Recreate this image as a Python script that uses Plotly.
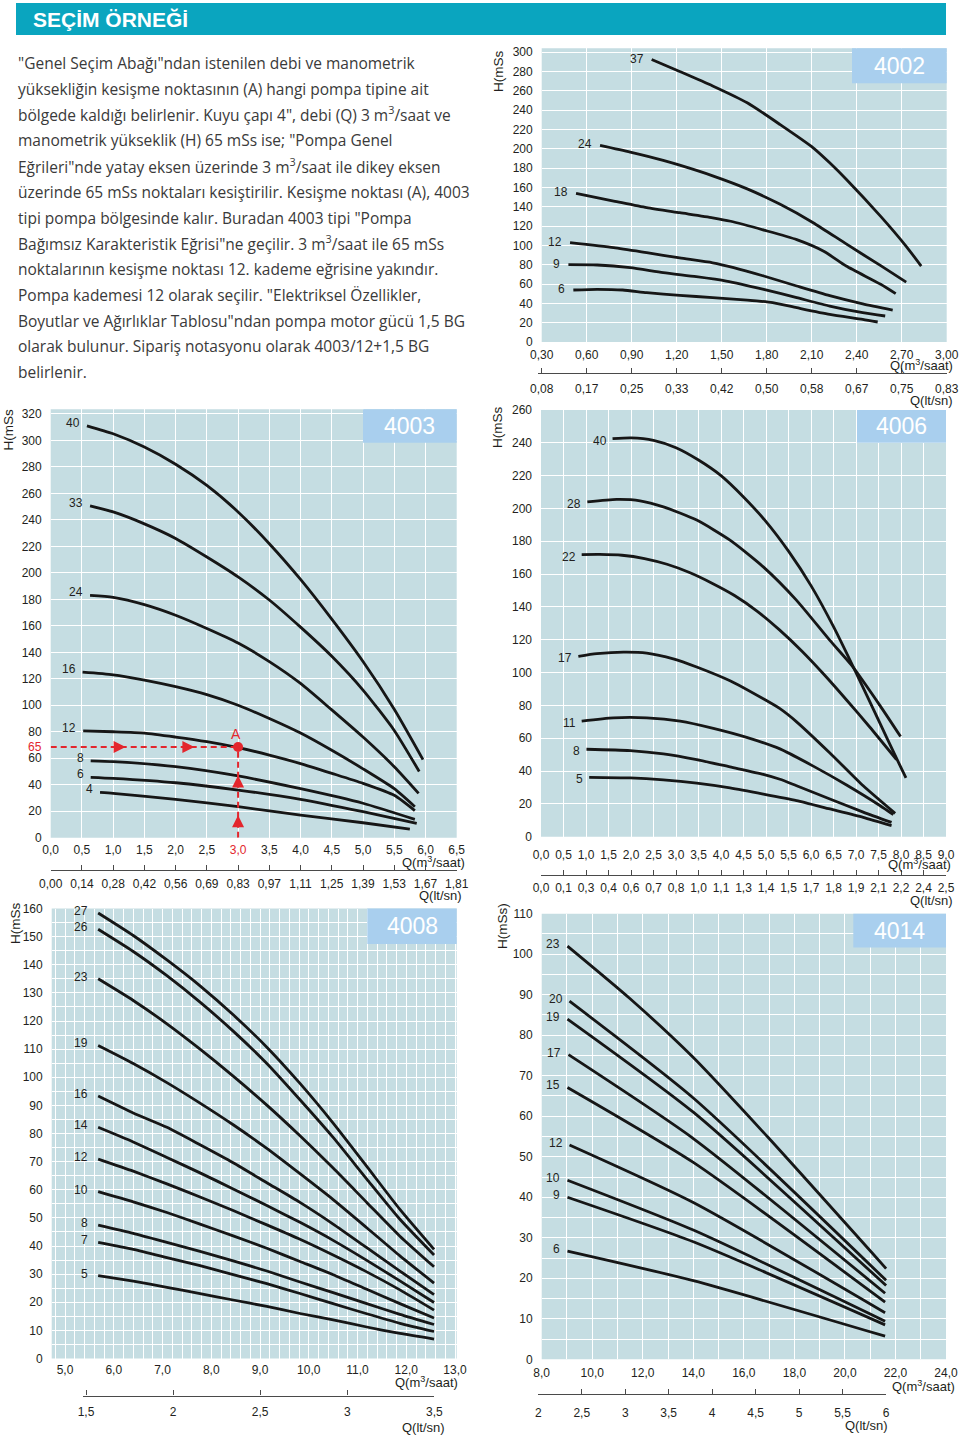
import plotly.graph_objects as go

W, H = 960, 1437

# ====================== DATA ======================
TITLE = "SEÇİM ÖRNEĞİ"
PARAGRAPH = [
    '"Genel Seçim Abağı"ndan istenilen debi ve manometrik',
    'yüksekliğin kesişme noktasının (A) hangi pompa tipine ait',
    'bölgede kaldığı belirlenir. Kuyu çapı 4", debi (Q) 3 m<sup>3</sup>/saat ve',
    'manometrik yükseklik (H) 65 mSs ise; "Pompa Genel',
    'Eğrileri"nde yatay eksen üzerinde 3 m<sup>3</sup>/saat ile dikey eksen',
    'üzerinde 65 mSs noktaları kesiştirilir. Kesişme noktası (A), 4003',
    'tipi pompa bölgesinde kalır. Buradan 4003 tipi "Pompa',
    'Bağımsız Karakteristik Eğrisi"ne geçilir. 3 m<sup>3</sup>/saat ile 65 mSs',
    'noktalarının kesişme noktası 12. kademe eğrisine yakındır.',
    'Pompa kademesi 12 olarak seçilir. "Elektriksel Özellikler,',
    'Boyutlar ve Ağırlıklar Tablosu"ndan pompa motor gücü 1,5 BG',
    'olarak bulunur. Sipariş notasyonu olarak 4003/12+1,5 BG',
    'belirlenir.',
]

# ---- 4002 ----
Q_TICKS_4002 = ["0,30", "0,60", "0,90", "1,20", "1,50", "1,80", "2,10", "2,40", "2,70", "3,00"]
LTSN_TICKS_4002 = ["0,08", "0,17", "0,25", "0,33", "0,42", "0,50", "0,58", "0,67", "0,75", "0,83"]
H_TICKS_4002 = [0, 20, 40, 60, 80, 100, 120, 140, 160, 180, 200, 220, 240, 260, 280, 300]
CURVES_4002 = {
    "37": ([1.033, 1.22, 1.44, 1.67, 1.89, 2.11, 2.22, 2.33, 2.56, 2.73, 2.83],
           [292.4, 280, 265, 247.6, 225, 201, 185.5, 168.5, 130, 99, 78.6]),
    "24": ([0.689, 0.89, 1.11, 1.22, 1.44, 1.67, 1.89, 2.11, 2.33, 2.56, 2.73],
           [203.4, 196.5, 188, 183, 172, 158.5, 142.5, 123.5, 101.5, 79, 62]),
    "18": ([0.529, 0.78, 1.0, 1.22, 1.44, 1.56, 1.78, 2.0, 2.18, 2.33, 2.56, 2.66],
           [153.8, 145.9, 139, 133.8, 128.6, 125, 115.9, 106, 94, 78.6, 59.7, 50]),
    "12": ([0.489, 0.78, 1.0, 1.22, 1.44, 1.58, 1.78, 2.0, 2.22, 2.44, 2.64],
           [102.8, 97.6, 92.4, 87, 82, 77, 68.3, 58, 48, 39.5, 33]),
    "9": ([0.478, 0.67, 0.89, 1.11, 1.33, 1.53, 1.78, 2.0, 2.22, 2.44, 2.59],
          [80, 79.7, 76.9, 71.7, 67.6, 63.1, 54.5, 45.9, 37.2, 30.3, 26.9]),
    "6": ([0.511, 0.67, 0.84, 1.0, 1.22, 1.44, 1.67, 1.84, 2.0, 2.22, 2.44, 2.54],
          [53.8, 54.5, 53.8, 51, 48.3, 45.9, 43.4, 40.7, 35.5, 28.6, 23.4, 20.7]),
}

# ---- 4003 ----
Q_TICKS_4003 = ["0,0", "0,5", "1,0", "1,5", "2,0", "2,5", "3,0", "3,5", "4,0", "4,5", "5,0", "5,5", "6,0", "6,5"]
LTSN_TICKS_4003 = ["0,00", "0,14", "0,28", "0,42", "0,56", "0,69", "0,83", "0,97", "1,11", "1,25", "1,39", "1,53", "1,67", "1,81"]
H_TICKS_4003 = [0, 20, 40, 60, 80, 100, 120, 140, 160, 180, 200, 220, 240, 260, 280, 300, 320]
CURVES_4003 = {
    "40": ([0.58, 1.0, 1.5, 2.0, 2.5, 3.0, 3.5, 4.0, 4.5, 5.0, 5.5, 5.96],
           [311, 305, 295, 282, 266, 246, 222, 195, 165, 133, 97, 59]),
    "33": ([0.63, 1.0, 1.5, 2.0, 2.5, 3.0, 3.5, 4.0, 4.5, 5.0, 5.5, 5.9],
           [250.5, 246, 237, 226, 212, 197, 179.5, 159, 137, 111.5, 81, 50]),
    "24": ([0.63, 1.0, 1.5, 2.0, 2.5, 3.0, 3.5, 4.0, 4.5, 5.0, 5.5, 5.89],
           [183, 181.5, 176, 168, 158, 147, 133, 116.5, 96.5, 76, 53.6, 33.5]),
    "16": ([0.51, 1.0, 1.5, 2.0, 2.5, 3.0, 3.5, 4.0, 4.5, 5.0, 5.5, 5.83],
           [125, 123, 119, 114, 108, 100, 90, 79, 66, 52, 37, 23.4]),
    "12": ([0.52, 1.0, 1.5, 2.0, 2.5, 3.0, 3.5, 4.0, 4.5, 5.0, 5.5, 5.83],
           [80.6, 80, 79, 76, 72.5, 68, 62.4, 56, 48.6, 41, 32, 20.4]),
    "8": ([0.64, 1.0, 2.0, 3.0, 4.0, 5.0, 5.83], [58, 57.4, 53.6, 46.6, 37, 26, 13.8]),
    "6": ([0.64, 1.0, 2.0, 3.0, 4.0, 5.0, 5.86], [45.6, 44.8, 41.5, 36, 29, 19.6, 10.8]),
    "4": ([0.79, 1.0, 2.0, 3.0, 4.0, 5.0, 5.75], [34.2, 33.5, 29, 23.4, 17, 11.3, 6.5]),
}
# selection example (point A): labelled 65 mSs, drawn where the picture places it
A_Q, A_LABEL = 3.0, "65"
A_H = 68.5
ARROW_Q = [1.2, 2.3]
ARROW_H = [47, 17]

# ---- 4006 ----
Q_TICKS_4006 = ["0,0", "0,5", "1,0", "1,5", "2,0", "2,5", "3,0", "3,5", "4,0", "4,5", "5,0", "5,5", "6,0",
                "6,5", "7,0", "7,5", "8,0", "8,5", "9,0"]
LTSN_TICKS_4006 = ["0,0", "0,1", "0,3", "0,4", "0,6", "0,7", "0,8", "1,0", "1,1", "1,3", "1,4", "1,5", "1,7",
                   "1,8", "1,9", "2,1", "2,2", "2,4", "2,5"]
H_TICKS_4006 = [0, 20, 40, 60, 80, 100, 120, 140, 160, 180, 200, 220, 240, 260]
CURVES_4006 = {
    "40": ([1.59, 2.0, 2.5, 3.0, 3.5, 4.0, 4.5, 5.0, 5.5, 6.0, 6.5, 7.0, 7.5, 7.87, 8.11],
           [242.5, 243, 241.5, 237, 229.5, 220, 207, 192, 174, 153, 128, 100, 71, 49.5, 35.8]),
    "28": ([1.03, 1.68, 2.2, 2.72, 3.46, 4.2, 4.94, 5.68, 6.42, 6.9, 7.53, 7.99],
           [204, 205.5, 204.7, 201, 192.9, 180.7, 164.4, 144, 119.6, 104.5, 80, 61]),
    "22": ([0.904, 1.3, 1.8, 2.3, 2.8, 3.3, 3.8, 4.3, 4.8, 5.3, 5.8, 6.3, 6.8, 7.3, 7.9],
           [171.9, 172, 171.5, 169.5, 166, 161, 154.5, 147, 137.5, 126, 113, 98.5, 83, 67, 47]),
    "17": ([0.83, 1.24, 1.83, 2.35, 2.94, 3.46, 4.2, 4.94, 5.31, 5.68, 6.42, 7.16, 7.87],
           [109.9, 111.5, 112.5, 111.9, 108.4, 103.4, 95, 84, 78, 70, 51, 31, 14.2]),
    "11": ([0.904, 1.61, 2.35, 3.09, 3.83, 4.57, 5.31, 6.05, 6.79, 7.53, 7.83],
           [70.4, 72.4, 72.4, 70.4, 66, 60.5, 53.5, 43, 31.5, 19, 13.4]),
    "8": ([1.01, 1.98, 2.72, 3.46, 4.2, 4.94, 5.31, 5.68, 6.42, 7.16, 7.79],
          [53.3, 52.5, 50.5, 47, 42.5, 38, 35, 31, 23, 15, 8.7]),
    "5": ([1.07, 1.98, 2.72, 3.46, 4.2, 4.94, 5.68, 6.42, 7.16, 7.79],
          [36.2, 35.8, 34.6, 32.6, 29.7, 26, 22, 16.9, 11.8, 6.7]),
}

# ---- 4008 ----
Q_TICKS_4008 = ["5,0", "6,0", "7,0", "8,0", "9,0", "10,0", "11,0", "12,0", "13,0"]
LTSN_TICKS_4008 = ["1,5", "2", "2,5", "3", "3,5"]
H_TICKS_4008 = [0, 10, 20, 30, 40, 50, 60, 70, 80, 90, 100, 110, 120, 130, 140, 150, 160]
Q_4008 = [5.68, 6.40, 7.09, 7.77, 8.45, 9.14, 9.82, 10.5, 11.19, 11.87, 12.57]
CURVES_4008 = {
    "27": (Q_4008, [158.4, 150.4, 141.7, 132.5, 122.2, 110.7, 97.8, 83.7, 68.3, 53, 38.8]),
    "26": (Q_4008, [152.6, 144.7, 136.1, 126.7, 116.4, 104.9, 92, 78.6, 63.8, 49.5, 36.8]),
    "23": (Q_4008, [135, 127.3, 119, 110, 100.4, 90.1, 79.2, 67.7, 55.5, 43.5, 32.6]),
    "19": (Q_4008, [111.3, 104.9, 98.1, 90.8, 83.1, 74.7, 65.7, 56.5, 46.5, 36.5, 26.8]),
    "16": (Q_4008, [93.3, 87.3, 82.2, 76, 69.6, 62.5, 55.5, 47.8, 39.4, 31.1, 22.7]),
    "14": (Q_4008, [82.2, 77, 71.5, 66, 60.3, 54.4, 48.4, 42, 34.9, 27.6, 19.9]),
    "12": (Q_4008, [70.9, 66.6, 62.1, 57.4, 52.6, 47.5, 42.4, 36.8, 30.8, 24.4, 17.2]),
    "10": (Q_4008, [59.3, 55.7, 51.9, 47.8, 43.6, 39.2, 34.5, 29.8, 24.6, 19.5, 14.4]),
    "8": (Q_4008, [47.4, 44.5, 41.3, 38.1, 34.7, 31.1, 27.2, 23.4, 19.5, 15.7, 12.1]),
    "7": (Q_4008, [41.3, 38.8, 35.9, 33, 29.8, 26.6, 23.1, 19.5, 15.9, 12.5, 9.6]),
    "5": (Q_4008, [29.5, 27.5, 25.3, 23.1, 20.8, 18.5, 16, 13.7, 11.2, 8.9, 6.9]),
}

# ---- 4014 ----
Q_TICKS_4014 = ["8,0", "10,0", "12,0", "14,0", "16,0", "18,0", "20,0", "22,0", "24,0"]
LTSN_TICKS_4014 = ["2", "2,5", "3", "3,5", "4", "4,5", "5", "5,5", "6"]
H_TICKS_4014 = [0, 10, 20, 30, 40, 50, 60, 70, 80, 90, 100, 110]
CURVES_4014 = {
    "23": ([9.02, 11.5, 14.0, 17.0, 21.63], [102, 89.0, 74.5, 54.5, 22.4]),
    "20": ([9.1, 14.0, 21.63], [88.4, 64.5, 19.5]),
    "19": ([9.02, 14.0, 21.63], [84, 61, 18.2]),
    "17": ([9.06, 14.0, 21.59], [75.2, 54.5, 16.3]),
    "15": ([9.02, 14.0, 21.59], [67.1, 48.6, 14.1]),
    "12": ([9.1, 14.0, 21.59], [52.9, 38.7, 11.5]),
    "10": ([9.02, 14.0, 21.59], [44.2, 31.9, 9.4]),
    "9": ([9.02, 14.0, 21.59], [40, 29, 8.5]),
    "6": ([9.02, 14.0, 21.59], [26.7, 19.4, 5.7]),
}

# ====================== STYLE ======================
FONT = "Liberation Sans, Arial, Helvetica, sans-serif"
TXT = "#231f20"
BG = "#c5dde2"
BOXC = "#a9cfee"
TEAL = "#0aa5bf"
RED = "#e3262d"
LINE = "#161616"
TICKFONT = dict(family=FONT, size=12, color=TXT)


def num(s):
    return float(s.replace(",", "."))


def fx(X):
    return X / W


def fy(Y):
    return 1 - Y / H


def axn(n, k):
    return f"{k}axis" if n == 1 else f"{k}axis{n}"


def rf(n, k):
    return k if n == 1 else f"{k}{n}"


def frange(a, b, step):
    out = []
    v = a
    while v <= b + 1e-9:
        out.append(round(v, 4))
        v += step
    return out


fig = go.Figure()
layout = {}
shapes = []
annos = []


def main_panel(n, name, box, xr, yr, xvals, xtext, yvals, curves, shift, box_px,
               x_off, xminor=None, yminor=None):
    L, T, R, B = box
    xa = dict(domain=[fx(L), fx(R)], range=xr, anchor=rf(n, "y"), tickmode="array",
              tickvals=xvals, ticktext=xtext, showgrid=True, gridcolor="white", gridwidth=1.3,
              zeroline=False, showline=False, ticks="", tickfont=TICKFONT, automargin=False,
              ticklabelstandoff=x_off, fixedrange=True)
    ya = dict(domain=[fy(B), fy(T)], range=yr, anchor=rf(n, "x"), tickmode="array",
              tickvals=yvals, ticktext=[str(v) for v in yvals], showgrid=True, gridcolor="white",
              gridwidth=1.3, zeroline=False, showline=False, ticks="", tickfont=TICKFONT,
              automargin=False, ticklabelstandoff=8, fixedrange=True)
    if xminor:
        xa["minor"] = dict(tickmode="array", tickvals=xminor, showgrid=True, gridcolor="white",
                           gridwidth=1, ticks="")
    if yminor:
        ya["minor"] = dict(tickmode="array", tickvals=yminor, showgrid=True, gridcolor="white",
                           gridwidth=1, ticks="")
    layout[axn(n, "x")] = xa
    layout[axn(n, "y")] = ya
    shapes.append(dict(type="rect", xref=f"{rf(n, 'x')} domain", yref=f"{rf(n, 'y')} domain",
                       x0=0, x1=1, y0=0, y1=1, fillcolor=BG, line=dict(width=0), layer="below"))
    bl, bt, br, bb = box_px
    shapes.append(dict(type="rect", xref="paper", yref="paper",
                       x0=fx(bl), x1=fx(br), y0=fy(bb), y1=fy(bt),
                       fillcolor=BOXC, line=dict(width=0), layer="above"))
    annos.append(dict(text=name, xref="paper", yref="paper", x=fx((bl + br) / 2), y=fy((bt + bb) / 2),
                      xanchor="center", yanchor="middle", showarrow=False,
                      font=dict(family=FONT, size=23, color="white")))
    for k, (q, h) in curves.items():
        fig.add_trace(go.Scatter(x=q, y=h, mode="lines", xaxis=rf(n, "x"), yaxis=rf(n, "y"),
                                 line=dict(color=LINE, width=2.8, shape="spline", smoothing=0.6),
                                 showlegend=False, hoverinfo="skip"))
        annos.append(dict(text=k, x=q[0], y=h[0], xref=rf(n, "x"), yref=rf(n, "y"),
                          xanchor="right", yanchor="middle", xshift=shift[0], yshift=shift[1],
                          showarrow=False, font=dict(family=FONT, size=12, color=TXT)))


def sec_axis(n, left, right, line_y, xr, vals, text, off):
    layout[axn(n, "x")] = dict(domain=[fx(left), fx(right)], range=xr, anchor=rf(n, "y"),
                               tickmode="array", tickvals=vals, ticktext=text, showgrid=False,
                               zeroline=False, showline=True, linecolor="#4a4a4a", linewidth=1.2,
                               ticks="inside", ticklen=5, tickwidth=1, tickcolor="#4a4a4a",
                               tickfont=TICKFONT, ticklabelstandoff=off, fixedrange=True,
                               automargin=False)
    layout[axn(n, "y")] = dict(domain=[fy(line_y), fy(line_y) + 0.0004], range=[0, 1],
                               anchor=rf(n, "x"), visible=False, fixedrange=True, automargin=False)
    fig.add_trace(go.Scatter(x=[None], y=[None], xaxis=rf(n, "x"), yaxis=rf(n, "y"),
                             showlegend=False, hoverinfo="skip"))


def label(text, X, Y, anchor="right", size=13, color=TXT, angle=0):
    annos.append(dict(text=text, xref="paper", yref="paper", x=fx(X), y=fy(Y), xanchor=anchor,
                      yanchor="middle", showarrow=False, textangle=angle,
                      font=dict(family=FONT, size=size, color=color)))


# ---------------- header & paragraph ----------------
shapes.append(dict(type="rect", xref="paper", yref="paper", x0=fx(16), x1=fx(946), y0=fy(35), y1=fy(3),
                   fillcolor=TEAL, line=dict(width=0), layer="below"))
annos.append(dict(text=f"<b>{TITLE}</b>", xref="paper", yref="paper", x=fx(31), y=fy(19.5),
                  xanchor="left", yanchor="middle", showarrow=False,
                  font=dict(family="Liberation Sans Narrow, Liberation Sans, Arial", size=21, color="white")))
for i, line in enumerate(PARAGRAPH):
    annos.append(dict(text=line, xref="paper", yref="paper", x=fx(16), y=fy(63 + 25.75 * i),
                      xanchor="left", yanchor="middle", showarrow=False,
                      font=dict(family="Open Sans, Noto Sans, sans-serif", size=15.5, color="#3a3a3a")))

# ---------------- 4002 ----------------
qv = [num(s) for s in Q_TICKS_4002]
main_panel(1, "4002", (541.7, 48.3, 946.7, 342.0), [0.3, 3.0], [0, 304], qv, Q_TICKS_4002,
           H_TICKS_4002, CURVES_4002, (-6, 1), (852, 48.3, 946.7, 83.3), 4)
sec_axis(6, 538.0, 946.7, 373, [0.3 - 3.7 / 150, 3.0], qv, LTSN_TICKS_4002, 4)

# ---------------- 4003 ----------------
qv = [num(s) for s in Q_TICKS_4003]
qt = [f'<span style="color:{RED}">{s}</span>' if num(s) == A_Q else s for s in Q_TICKS_4003]
main_panel(2, "4003", (50.7, 409.3, 456.7, 837.7), [0, 6.5], [0, 323.5], qv, qt,
           H_TICKS_4003, CURVES_4003, (-5, 3), (363, 409.3, 456.7, 442.7), 3)
sec_axis(7, 50.7, 456.7, 870, [0, 6.5], qv, LTSN_TICKS_4003, 2)

# red selection construction
fig.add_trace(go.Scatter(x=[0, A_Q], y=[A_H, A_H], mode="lines", xaxis="x2", yaxis="y2",
                         line=dict(color=RED, width=2, dash="6px,4px"), showlegend=False, hoverinfo="skip"))
fig.add_trace(go.Scatter(x=[A_Q, A_Q], y=[0, A_H], mode="lines", xaxis="x2", yaxis="y2",
                         line=dict(color=RED, width=2, dash="6px,4px"), showlegend=False, hoverinfo="skip"))
fig.add_trace(go.Scatter(x=ARROW_Q, y=[A_H] * len(ARROW_Q), mode="markers", xaxis="x2", yaxis="y2",
                         marker=dict(symbol="arrow-right", size=12, color=RED, line=dict(width=0)),
                         showlegend=False, hoverinfo="skip"))
fig.add_trace(go.Scatter(x=[A_Q] * len(ARROW_H), y=ARROW_H, mode="markers", xaxis="x2", yaxis="y2",
                         marker=dict(symbol="arrow-up", size=12, color=RED, line=dict(width=0)),
                         showlegend=False, hoverinfo="skip", cliponaxis=False))
fig.add_trace(go.Scatter(x=[A_Q], y=[A_H], mode="markers", xaxis="x2", yaxis="y2",
                         marker=dict(symbol="circle", size=10, color=RED), showlegend=False, hoverinfo="skip"))
annos.append(dict(text="A", x=A_Q, y=A_H, xref="x2", yref="y2", yshift=13, xshift=-2, showarrow=False,
                  font=dict(family=FONT, size=14, color=RED)))
annos.append(dict(text=A_LABEL, xref="paper", x=fx(44), y=A_H, yref="y2", xanchor="right",
                  yanchor="middle", showarrow=False, font=dict(family=FONT, size=12, color=RED)))

# ---------------- 4006 ----------------
qv = [num(s) for s in Q_TICKS_4006]
main_panel(3, "4006", (541.0, 410.0, 946.0, 836.7), [0, 9], [0, 260], qv, Q_TICKS_4006,
           H_TICKS_4006, CURVES_4006, (-4, -2), (857, 410, 946, 442.7), 9)
sec_axis(8, 541.0, 946.0, 875, [0, 9], qv, LTSN_TICKS_4006, 1)

# ---------------- 4008 ----------------
qv = [num(s) for s in Q_TICKS_4008]
main_panel(4, "4008", (51.7, 908.5, 456.7, 1358.5), [5 - 13.3 / 48.75, 13 + 1.7 / 48.75], [0, 160], qv,
           Q_TICKS_4008, H_TICKS_4008, CURVES_4008, (-8, 2), (367.3, 908.5, 456.7, 944), 2,
           xminor=frange(4.8, 13.0, 0.2), yminor=frange(5, 155, 10))
sec_axis(9, 82.7, 434.3, 1395.5, [1.5 - 3.3 / 174.15, 3.5], [num(s) for s in LTSN_TICKS_4008],
         LTSN_TICKS_4008, 5)

# ---------------- 4014 ----------------
qv = [num(s) for s in Q_TICKS_4014]
main_panel(5, "4014", (541.7, 913.7, 946.0, 1359.3), [8, 24], [0, 110], qv, Q_TICKS_4014,
           H_TICKS_4014, CURVES_4014, (-5, 2), (853.3, 913.7, 946, 947.6), 5,
           xminor=frange(9, 23, 2), yminor=frange(5, 105, 10))
sec_axis(10, 538.3, 886.0, 1394, [2, 6], [num(s) for s in LTSN_TICKS_4014], LTSN_TICKS_4014, 7)

# ---------------- axis titles ----------------
for X, Y, t in [(498, 72, "H(mSs"), (7.5, 430, "H(mSs"), (497, 428, "H(mSs"), (15, 924, "H(mSs"),
                (502, 926, "H(mSs)")]:
    annos.append(dict(text=t, xref="paper", yref="paper", x=fx(X), y=fy(Y), xanchor="center",
                      yanchor="middle", showarrow=False, textangle=-90,
                      font=dict(family=FONT, size=13.5, color=TXT)))
QM = "Q(m<sup>3</sup>/saat)"
QL = "Q(lt/sn)"
for X, Y in [(955, 365), (466.7, 862), (953, 864), (460, 1382), (956.7, 1385.5)]:
    label(QM, X, Y)
for X, Y in [(955, 400), (464, 895), (955, 900), (446.7, 1427), (890, 1425.6)]:
    label(QL, X, Y)

layout.update(dict(width=W, height=H, margin=dict(l=0, r=0, t=0, b=0, pad=0, autoexpand=False),
                   autosize=False, paper_bgcolor="white", plot_bgcolor="rgba(0,0,0,0)", showlegend=False,
                   shapes=shapes, annotations=annos))
fig.update_layout(**layout)
fig.write_html("out.html", config={"displayModeBar": False, "responsive": False},
               post_script="document.body.style.margin='0';document.body.style.overflow='hidden';")
